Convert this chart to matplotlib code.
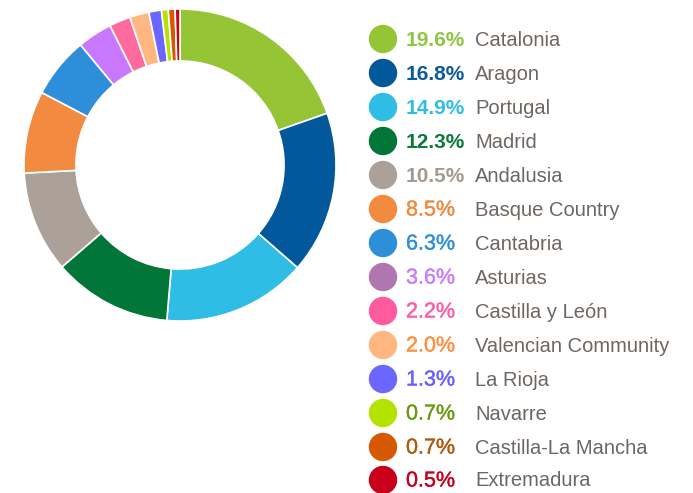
import matplotlib.pyplot as plt
import matplotlib.patheffects as pe
from matplotlib.patches import Circle

regions = ["Catalonia", "Aragon", "Portugal", "Madrid", "Andalusia",
           "Basque Country", "Cantabria", "Asturias", "Castilla y León",
           "Valencian Community", "La Rioja", "Navarre",
           "Castilla-La Mancha", "Extremadura"]
shares = [19.6, 16.8, 14.9, 12.3, 10.5, 8.5, 6.3, 3.6, 2.2, 2.0, 1.3, 0.7, 0.7, 0.5]

slice_colors = ["#95c434", "#02589a", "#30bde5", "#017638", "#aba199",
                "#f28a40", "#2d8fd9", "#c977ff", "#ff6b9e", "#ffb681",
                "#6b66ff", "#b5e300", "#d65800", "#c8001a"]
dot_colors = ["#95c434", "#02589a", "#30bde5", "#017638", "#aba199",
              "#f28a40", "#2d8fd9", "#b076b0", "#ff5a9e", "#ffb681",
              "#6b66ff", "#b5e300", "#d65800", "#c8001a"]
pct_colors = ["#8dc63f", "#0a5a9c", "#2ebde6", "#0a7a3a", "#a39a91",
              "#f08a3e", "#2e8fdc", "#c77dff", "#ff5ca8", "#ff9040",
              "#6a60ff", "#6b9a10", "#b05a10", "#c8001e"]
row_y = [39, 73, 107, 141, 175, 209, 243, 277, 311, 345, 379, 413, 447, 480]

W, H = 693, 493
fig = plt.figure(figsize=(W / 100, H / 100), dpi=100)

# donut
cx, cy, r = 180, 165, 156
ax = fig.add_axes([(cx - r) / W, (H - cy - r) / H, 2 * r / W, 2 * r / H])
ax.pie(shares, colors=slice_colors, startangle=90, counterclock=False,
       radius=1.0, wedgeprops=dict(width=0.333, edgecolor="white", linewidth=1.2))
ax.set_xlim(-1, 1)
ax.set_ylim(-1, 1)
ax.set_aspect("equal")
ax.axis("off")

# legend in pixel coordinates
lg = fig.add_axes([0, 0, 1, 1])
lg.set_xlim(0, W)
lg.set_ylim(H, 0)
lg.axis("off")
for i in range(len(regions)):
    y = row_y[i]
    lg.add_patch(Circle((383, y), 13.5, color=dot_colors[i]))
    if i < 5:
        lg.text(406, y + 1, "%.1f%%" % shares[i], color=pct_colors[i], fontsize=15,
                fontweight="bold", family="Liberation Sans", va="center")
    else:
        lg.text(406, y + 1, "%.1f%%" % shares[i], color=pct_colors[i], fontsize=15.5,
                family="Liberation Sans", va="center",
                path_effects=[pe.withStroke(linewidth=0.25, foreground=pct_colors[i])])
    lg.text(475, y + 1, regions[i], color="#6e6660", fontsize=14.5,
            family="Liberation Sans", va="center")

fig.savefig("out.png", dpi=100)
